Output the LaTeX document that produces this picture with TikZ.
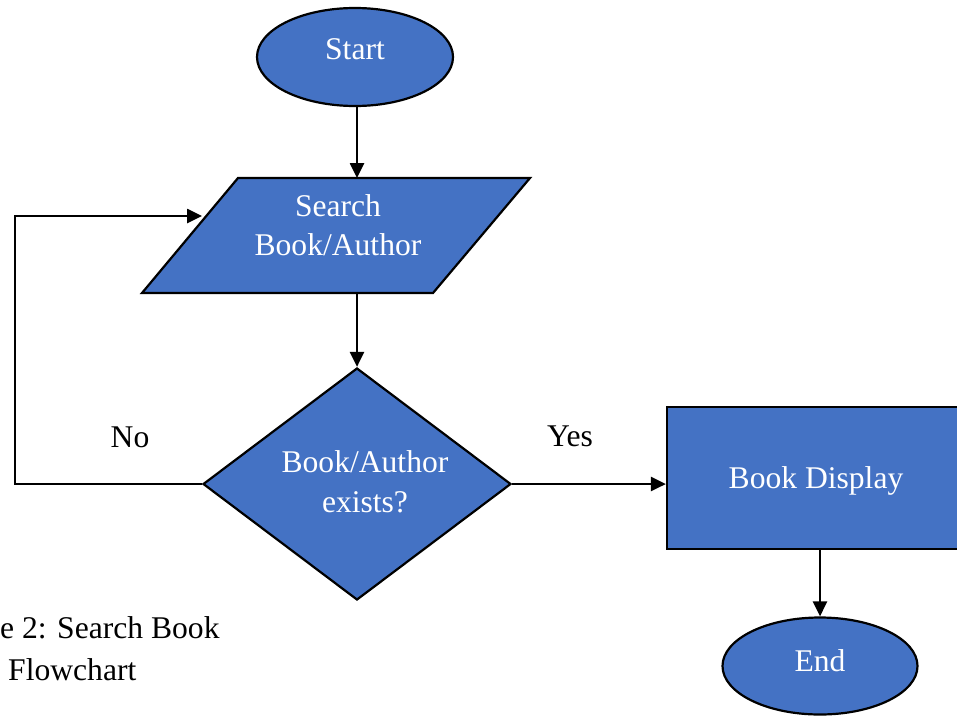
\documentclass[tikz,border=0pt]{standalone}
\usepackage{fontspec}
\setmainfont{Liberation Serif}
\usetikzlibrary{shapes.geometric,arrows.meta}
\definecolor{boxblue}{HTML}{4472C4}
\tikzset{
  shapebox/.style={draw=black,fill=boxblue,line width=2.2pt,inner sep=0pt},
  intext/.style={text=white,font=\fontsize{31.6}{38}\selectfont,inner sep=0pt,anchor=base},
  outtext/.style={text=black,font=\fontsize{31.6}{38}\selectfont,inner sep=0pt,anchor=base},
  conn/.style={draw=black,line width=2.6pt,-{Triangle[length=15pt,width=14pt]}}
}
\begin{document}
\begin{tikzpicture}[x=1pt,y=-1pt]
\useasboundingbox (0,0) rectangle (957,715);
\clip (0,0) rectangle (957,715);
\fill[white] (0,0) rectangle (957,715);
% Start
\node[shapebox,ellipse,minimum width=196pt,minimum height=98pt] (start) at (355,57) {};
\node[intext] (starttxt) at (355,59) {Start};
% parallelogram
\coordinate (pTL) at (238,178);
\coordinate (pTR) at (530,178);
\coordinate (pBR) at (433,293);
\coordinate (pBL) at (142,293);
\coordinate (ptop) at (357,178);
\coordinate (pbot) at (357,293);
\coordinate (pleft) at (202,216);
\filldraw[shapebox,line join=miter] (pTL) -- (pTR) -- (pBR) -- (pBL) -- cycle;
\node[intext] (search1) at (338,216) {Search};
\node[intext] (search2) at (338,255) {Book/Author};
% diamond
\node[shapebox,diamond,minimum width=308pt,minimum height=232pt] (dec) at (357,484) {};
\node[intext] (dec1) at (365,472) {Book/Author};
\node[intext] (dec2) at (365,512) {exists?};
% rectangle
\node[shapebox,rectangle,minimum width=300pt,minimum height=142pt] (disp) at (817,478) {};
\node[intext] (disptxt) at (816,488) {Book Display};
% End
\node[shapebox,ellipse,minimum width=195pt,minimum height=97pt] (end) at (820,666) {};
\node[intext] (endtxt) at (820,671) {End};
% labels
\node[outtext] (no) at (130,447) {No};
\node[outtext] (yes) at (570,446) {Yes};
\node[outtext,anchor=base west] (cap1) at (0,638) {e 2: Search Book};
\node[outtext,anchor=base west] (cap2) at (8,680) {Flowchart};
% connectors
\draw[conn] (start.south -| ptop) -- (ptop);
\draw[conn] (pbot) -- (dec.north);
\draw[conn] (dec.east) -- (disp.west |- dec.east);
\draw[conn] (disp.south -| end.north) -- (end.north);
\coordinate (loopA) at (15,484);
\coordinate (loopB) at (15,216);
\draw[conn] (dec.west) -- (loopA) -- (loopB) -- (pleft);
\end{tikzpicture}
\end{document}
